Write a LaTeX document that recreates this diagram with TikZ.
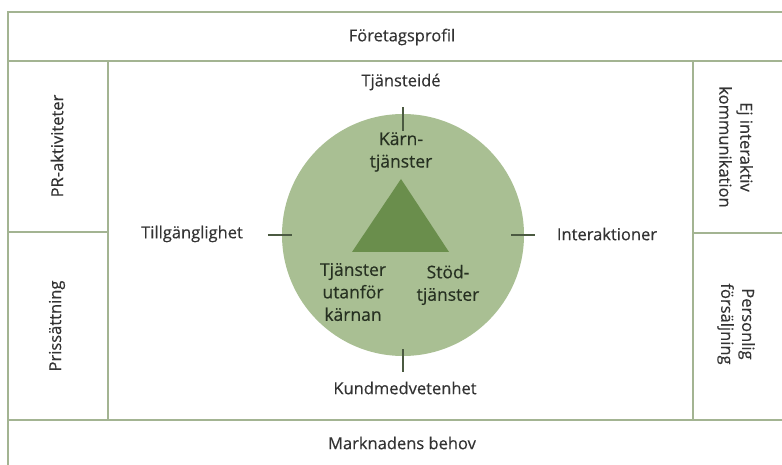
\documentclass[tikz,border=0pt]{standalone}
\usepackage{fontspec}
\setmainfont{Open Sans}
\newfontfamily\medfont[FakeBold=0.4]{Open Sans}
\usepackage{xcolor}
\usepackage{tikz}
\usetikzlibrary{calc,positioning}
\definecolor{framex}{HTML}{A3B492}
\definecolor{sagex}{HTML}{A9BF93}
\definecolor{leafx}{HTML}{6A8E4C}
\definecolor{tickx}{HTML}{4B5A41}
\definecolor{inkx}{HTML}{333333}
\definecolor{darkx}{HTML}{263021}
\tikzset{
  fr/.style={framex,line width=1.6pt},
  lbl/.style={inkx,font=\medfont\fontsize{16.5}{21}\selectfont,inner sep=0pt,align=center},
  inlbl/.style={darkx,font=\medfont\fontsize{17.5}{22.5}\selectfont,inner sep=0pt,align=center},
  tck/.style={tickx,line width=1.4pt}
}

\begin{document}
\begin{tikzpicture}[x=1pt,y=-1pt]
\useasboundingbox (0,0) rectangle (782,465);
% frame
\draw[fr] (8,465)--(8,12)--(782,12);
\draw[fr] (8,61)--(782,61);
\draw[fr] (8,420)--(782,420);
\draw[fr] (108,61)--(108,420);
\draw[fr] (693,61)--(693,420);
\draw[fr] (8,232)--(108,232);
\draw[fr] (693,233)--(782,233);
% band labels
\node[lbl] (prof) at (402,37) {Företagsprofil};
\node[lbl] (need) at (402,443) {Marknadens behov};
\node[lbl,rotate=90] (pr) at (57,146) {PR-aktiviteter};
\node[lbl,rotate=90] (price) at (57,326) {Prissättning};
\node[lbl,rotate=-90] (nonint) at (736,147) {Ej interaktiv\\kommunikation};
\node[lbl,rotate=-90] (sales) at (736,324) {Personlig\\försäljning};
% circle and triangle
\node[circle,fill=sagex,minimum size=242pt,inner sep=0pt] (circ) at (403,235) {};
\fill[leafx] (401,179)--(352,252)--(449,252)--cycle;
\node[inlbl] (core) at (401,152) {Kärn-\\tjänster};
\node[inlbl] (outer) at (353,292) {Tjänster\\utanför\\kärnan};
\node[inlbl] (supp) at (448,285) {Stöd-\\tjänster};
% ticks
\draw[tck] ($(circ.north)+(0,17)$)--($(circ.north)+(0,-7)$);
\draw[tck] ($(circ.south)+(0,-7)$)--($(circ.south)+(0,16)$);
\draw[tck] ($(circ.west)+(-14,0)$)--($(circ.west)+(10,0)$);
\draw[tck] ($(circ.east)+(-13,0)$)--($(circ.east)+(11,0)$);
% axis labels
\node[lbl] (idea) at (401,82) {Tjänsteidé};
\node[lbl] (aware) at (405,388) {Kundmedvetenhet};
\node[lbl] (access) at (192,234) {Tillgänglighet};
\node[lbl] (inter) at (607,234) {Interaktioner};
\end{tikzpicture}
\end{document}
